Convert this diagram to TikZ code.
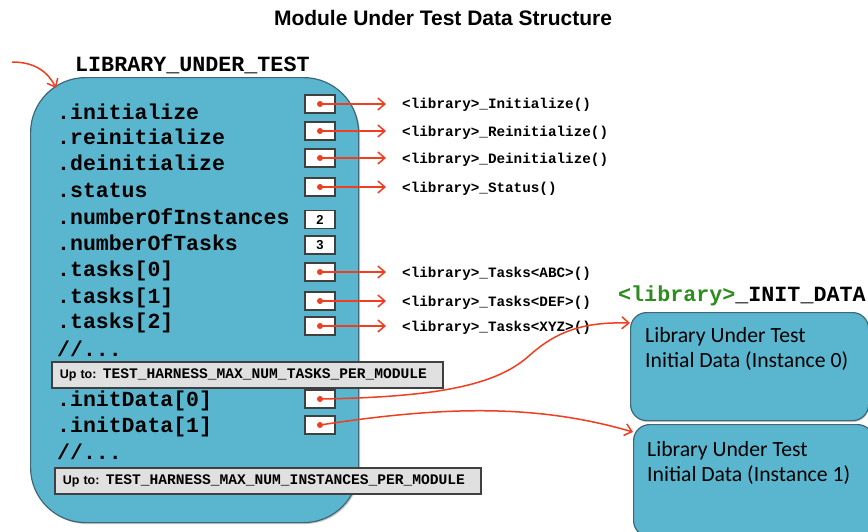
\documentclass[tikz,border=0pt]{standalone}
\usepackage{fontspec}
\setmainfont{Liberation Sans}
\setmonofont{Liberation Mono}
\newfontfamily\calib{Carlito}
\usetikzlibrary{arrows.meta,calc}

\definecolor{boxblue}{RGB}{90,182,207}
\definecolor{boxedge}{RGB}{62,104,120}
\definecolor{ptrred}{RGB}{240,62,32}
\definecolor{libgreen}{RGB}{44,140,30}
\definecolor{notegray}{RGB}{224,224,224}

\newcommand\notemono{\ttfamily\bfseries\fontsize{14.6}{14.6}\selectfont}

\tikzset{
  bigbox/.style={draw=boxedge, line width=1.2pt, fill=boxblue, rounded corners=55pt,
    inner sep=0, anchor=north west},
  databox/.style={draw=boxedge, line width=1.2pt, fill=boxblue, rounded corners=16pt,
    inner sep=0, anchor=north west},
  shade/.style={fill=black!22, draw=none},
  field/.style={anchor=base west, inner sep=0, font=\ttfamily\bfseries\fontsize{21.5}{21.5}\selectfont},
  heading/.style={anchor=base west, inner sep=0, font=\ttfamily\bfseries\fontsize{21.7}{21.7}\selectfont},
  fn/.style={anchor=base west, inner sep=0, font=\ttfamily\bfseries\fontsize{14.3}{14.3}\selectfont},
  slot/.style={draw=black!75, line width=1.3pt, fill=white, minimum width=30pt, minimum height=18pt,
    inner sep=0, font=\bfseries\fontsize{13}{13}\selectfont},
  pdot/.style={circle, fill=ptrred, inner sep=0, minimum size=6pt},
  ptr/.style={draw=ptrred, line width=1.5pt, -{Straight Barb[length=7pt,width=12pt,line width=1.5pt]}},
  note/.style={draw=black!75, fill=notegray, line width=1.5pt, anchor=north west, inner xsep=8pt,
    inner ysep=0, minimum height=26pt, align=left, font=\bfseries\fontsize{12.5}{12.5}\selectfont},
  datatext/.style={anchor=north west, inner sep=0, align=left,
    font=\calib\fontsize{21.7}{25}\selectfont},
}

\begin{document}
\begin{tikzpicture}[x=1pt,y=-1pt]
\useasboundingbox (0,0) rectangle (868,531);
\fill[white] (0,0) rectangle (868,531);

% title
\node[font=\bfseries\fontsize{21}{21}\selectfont, anchor=base] (title) at (443,25) {Module Under Test Data Structure};

% the structure itself
\fill[shade, rounded corners=55pt] (32,79) rectangle (360,524);
\node[bigbox, minimum width=328pt, minimum height=445pt] (lut) at (30,77) {};
\node[heading] (lutname) at (75,71) {LIBRARY\_UNDER\_TEST};
\coordinate (entry) at (12,62);
\coordinate (entryend) at (56,88);
\draw[ptr] (entry) .. controls (35,62) and (48,72) .. (entryend);

% member names
\node[field] (f1) at (57,119) {.initialize};
\node[field] (f2) at (57,144) {.reinitialize};
\node[field] (f3) at (57,170) {.deinitialize};
\node[field] (f4) at (57,197) {.status};
\node[field] (f5) at (57,224) {.numberOfInstances};
\node[field] (f6) at (57,250) {.numberOfTasks};
\node[field] (f7) at (57,276) {.tasks[0]};
\node[field] (f8) at (57,303) {.tasks[1]};
\node[field] (f9) at (57,328) {.tasks[2]};
\node[field] (c1) at (57,356) {//...};
\node[field] (f10) at (57,406) {.initData[0]};
\node[field] (f11) at (57,432) {.initData[1]};
\node[field] (c2) at (57,459) {//...};

% limits
\node[note, text width=375pt] (n1) at (51,361)
  {Up to: {\notemono TEST\_HARNESS\_MAX\_NUM\_TASKS\_PER\_MODULE}};
\node[note, text width=410pt] (n2) at (54,467)
  {Up to: {\notemono TEST\_HARNESS\_MAX\_NUM\_INSTANCES\_PER\_MODULE}};

% value slots
\node[slot] (s1) at (320,104) {};
\node[slot] (s2) at (320,131) {};
\node[slot] (s3) at (320,158) {};
\node[slot] (s4) at (320,187) {};
\node[slot] (s5) at (320,219.5) {2};
\node[slot] (s6) at (320,245) {3};
\node[slot] (s7) at (320,272) {};
\node[slot] (s8) at (320,301) {};
\node[slot] (s9) at (320,326) {};
\node[slot] (s10) at (320,399) {};
\node[slot] (s11) at (320,425) {};

% pointer targets
\node[fn] (t1) at (402,108) {<library>\_Initialize()};
\node[fn] (t2) at (402,136) {<library>\_Reinitialize()};
\node[fn] (t3) at (402,163) {<library>\_Deinitialize()};
\node[fn] (t4) at (402,192) {<library>\_Status()};
\node[fn] (t7) at (402,277) {<library>\_Tasks<ABC>()};
\node[fn] (t8) at (402,306) {<library>\_Tasks<DEF>()};
\node[fn] (t9) at (402,331) {<library>\_Tasks<XYZ>()};

\foreach \i in {1,2,3,4,7,8,9}{
  \node[pdot] (d\i) at (s\i.center) {};
  \coordinate (e\i) at ($(s\i.center -| t\i.west)+(-16,0)$);
  \draw[ptr] (d\i.center) -- (e\i);
}

% init data records
\node[heading] (initname) at (618,301) {\textcolor{libgreen}{<library>}\_INIT\_DATA};
\fill[shade, rounded corners=16pt] (632,314) rectangle (869,422);
\node[databox, minimum width=238pt, minimum height=108pt] (A) at (630,312) {};
\fill[shade, rounded corners=16pt] (635,426) rectangle (872,540);
\node[databox, minimum width=240pt, minimum height=112pt] (B) at (633,424) {};
\node[datatext] (At) at (645,327) {Library Under Test\\Initial Data (Instance 0)};
\node[datatext] (Bt) at (647,441) {Library Under Test\\Initial Data (Instance 1)};

\node[pdot] (d10) at (s10.center) {};
\node[pdot] (d11) at (s11.center) {};
\coordinate (a0) at ($(A.north west)+(0,11)$);
\coordinate (b0) at ($(B.north west)+(0,8)$);
\draw[ptr] (d10.center) .. controls (450,397) and (500,382) .. (530,355)
  .. controls (560,328) and (590,322) .. (a0);
\draw[ptr] (d11.center) .. controls (450,405) and (540,405) .. (b0);
\end{tikzpicture}
\end{document}
